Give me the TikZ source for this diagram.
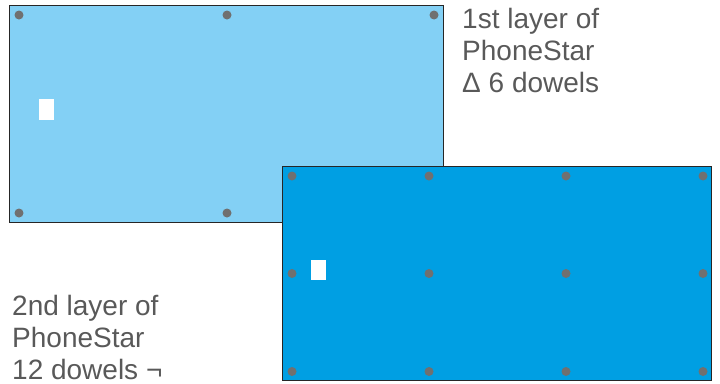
\documentclass[tikz,border=0pt]{standalone}
\usepackage{fontspec}
\setmainfont{Liberation Sans}
\usetikzlibrary{positioning}
\definecolor{layerone}{HTML}{83D0F5}
\definecolor{layertwo}{HTML}{009FE3}
\definecolor{dowelgray}{HTML}{707070}
\definecolor{labelgray}{HTML}{595959}
\tikzset{
  board/.style={draw=black!85, line width=1pt},
  dowel/.style={fill=dowelgray},
  notch/.style={fill=white},
  caption/.style={anchor=base west, inner sep=0pt, align=left, text=labelgray,
    font=\fontsize{28}{32}\selectfont}
}
\begin{document}
\begin{tikzpicture}[x=1pt,y=-1pt]
    \useasboundingbox (0,0) rectangle (720,383);
    % 1st layer, 6 dowels
    \draw[board, fill=layerone] (9.5,5.5) rectangle (443,222);
    \foreach \x in {19,227,434} {
        \foreach \y in {15,213} {
            \fill[dowel] (\x,\y) circle[radius=4.5];
        }
    }
    \fill[notch] (39,99) rectangle (54,119.5);
    % 2nd layer, 12 dowels
    \draw[board, fill=layertwo] (282,166) rectangle (711.5,380.5);
    \foreach \x in {292,429,566,703} {
        \foreach \y in {176,273.5,371.5} {
            \fill[dowel] (\x,\y) circle[radius=4.5];
        }
    }
    \fill[notch] (311,259.5) rectangle (326,279.5);
    % labels (base = last line)
    \node[caption] (firstlabel) at (462,92) {1st layer of\\PhoneStar\\Δ 6 dowels};
    \node[caption] (secondlabel) at (12,379.5) {2nd layer of\\PhoneStar\\12 dowels ¬};
\end{tikzpicture}
\end{document}
